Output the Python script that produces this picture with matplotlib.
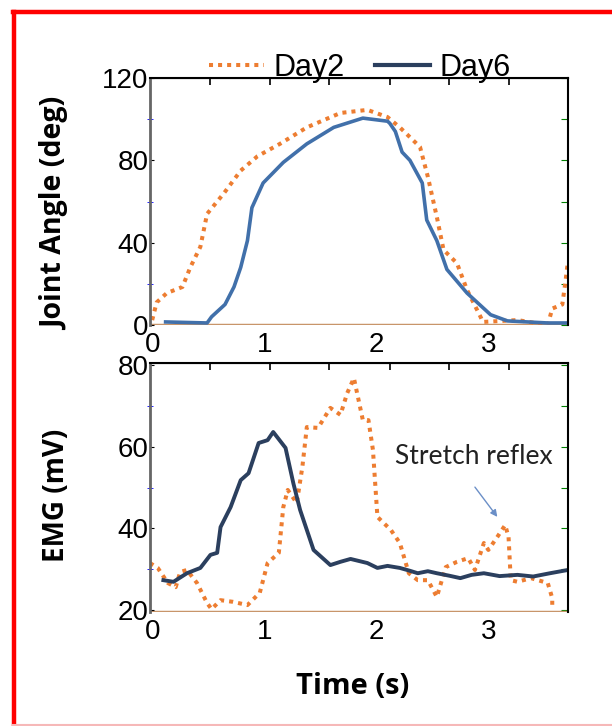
import matplotlib
matplotlib.use("Agg")
import matplotlib.pyplot as plt
from matplotlib.lines import Line2D

# 관절 각도 (상단 패널)
angle_day2_t = [0.0, 0.04, 0.13, 0.27, 0.34, 0.43, 0.49, 0.64, 0.79, 0.94, 1.14, 1.38, 1.68, 1.92,
                2.1, 2.21, 2.39, 2.46, 2.54, 2.6, 2.72, 2.81, 2.93, 2.95, 3.26, 3.53, 3.57, 3.66, 3.69, 3.71]
angle_day2 = [2.4, 11, 15.5, 18.5, 28, 38, 54, 64, 75, 82, 88, 96, 103, 104.5,
              101, 96, 86.5, 72, 52.5, 36.5, 30, 17, 4, 1.5, 2.4, 0, 8, 10, 22, 31]
angle_day6_t = [0.12, 0.49, 0.53, 0.65, 0.73, 0.79, 0.85, 0.89, 0.99, 1.17, 1.38, 1.62, 1.88, 2.1,
                2.12, 2.17, 2.23, 2.3, 2.41, 2.45, 2.54, 2.63, 2.81, 3.02, 3.17, 3.53, 3.71]
angle_day6 = [1.5, 1, 4, 10, 18.5, 28, 41, 57, 69, 79, 88, 96, 100.5, 99,
              98, 94, 84, 80, 69, 51, 41, 27, 15.5, 5, 2, 1, 1]

# EMG (하단 패널)
emg_day2_t = [-0.02, 0.05, 0.14, 0.21, 0.25, 0.31, 0.4, 0.49, 0.53, 0.61, 0.72, 0.85, 0.96, 1.03,
              1.13, 1.17, 1.21, 1.29, 1.34, 1.38, 1.48, 1.59, 1.68, 1.74, 1.8, 1.88, 1.93, 1.97,
              2.01, 2.13, 2.21, 2.29, 2.37, 2.46, 2.54, 2.62, 2.72, 2.82, 2.88, 2.96, 3.0, 3.08,
              3.15, 3.18, 3.2, 3.26, 3.38, 3.53, 3.57, 3.57]
emg_day2 = [31.5, 30.3, 26.6, 25.6, 29.3, 29.8, 26.6, 21.7, 20.2, 22.4, 22, 21.2, 24.2, 31.5,
            34, 45.2, 49.4, 46.2, 55, 64.8, 64.6, 69.5, 67.8, 73.1, 76.8, 66.5, 66.5, 59.2,
            42.8, 39.6, 36.4, 29, 27.3, 27.3, 23.2, 30.5, 31.8, 32.7, 29.8, 36.4, 34.7, 37.9,
            40.8, 37.9, 27.3, 26.9, 27.8, 26.6, 22.9, 20.7]
emg_day6_t = [0.1, 0.19, 0.31, 0.43, 0.52, 0.58, 0.61, 0.7, 0.79, 0.86, 0.95, 1.03, 1.08, 1.19,
              1.26, 1.32, 1.44, 1.59, 1.68, 1.77, 1.92, 2.01, 2.1, 2.21, 2.3, 2.37, 2.46, 2.54,
              2.65, 2.75, 2.85, 2.96, 3.1, 3.26, 3.4, 3.55, 3.71]
emg_day6 = [27.3, 26.9, 29, 30.3, 33.5, 34, 40.3, 45.2, 51.8, 53.5, 60.9, 61.6, 63.6, 59.7,
            51, 44.5, 34.7, 31, 31.8, 32.5, 31.5, 30.3, 30.8, 30.3, 29.6, 29, 29.5, 29,
            28.4, 27.8, 28.6, 29, 28.3, 28.6, 28.2, 29, 29.8]

x_labels = ["0", "1", "2", "3"]
top_minor = [0.52, 1.05, 1.58, 2.12, 2.65, 3.18]

ORANGE = "#ed7d31"
BLUE = "#4170aa"
NAVY = "#2b3f5e"
TAN = "#c8956a"

fig = plt.figure(figsize=(6.12, 7.26), dpi=100)

# 빨간 테두리
fig.add_artist(Line2D([0.023, 0.023], [0.0, 0.984], transform=fig.transFigure, color="red", lw=3.2))
fig.add_artist(Line2D([0.021, 1.0], [0.984, 0.984], transform=fig.transFigure, color="red", lw=3.2))
fig.add_artist(Line2D([0.021, 1.0], [0.002, 0.002], transform=fig.transFigure, color="#f6b8b8", lw=1.5))

ax1 = fig.add_axes([0.245, 0.5523, 0.683, 0.3403])
ax2 = fig.add_axes([0.245, 0.157, 0.683, 0.343])

dots = (0, (1, 1.25))

# 상단: 관절 각도
ax1.plot(angle_day2_t, angle_day2, color=ORANGE, lw=2.9, linestyle=dots, label="Day2")
ax1.plot(angle_day6_t, angle_day6, color=BLUE, lw=2.6)
ax1.axhline(0, color=TAN, lw=2.5, zorder=1)
ax1.set_xlim(-0.02, 3.71)
ax1.set_ylim(0, 120)
ax1.set_yticks([0, 40, 80, 120])

# 하단: EMG
ax2.plot(emg_day2_t, emg_day2, color=ORANGE, lw=2.9, linestyle=dots)
ax2.plot(emg_day6_t, emg_day6, color=NAVY, lw=2.8)
ax2.axhline(19.5, color=TAN, lw=2.5, zorder=1)
ax2.set_xlim(-0.02, 3.71)
ax2.set_ylim(19.5, 80.5)
ax2.set_yticks([20, 40, 60, 80])

ax2.text(2.87, 57.5, "Stretch reflex", ha="center", va="center", fontsize=19,
         family="Lato", color="#222222")
ax2.annotate("", xy=(3.08, 42.8), xytext=(2.88, 50.1),
             arrowprops=dict(arrowstyle="-|>", color="#6b8fc7", lw=1.0,
                             mutation_scale=10, shrinkA=0, shrinkB=0))

minor_left = {ax1: [20, 60, 100], ax2: [30, 50, 70]}
for ax in (ax1, ax2):
    ax.set_xticks([0, 1, 2, 3])
    ax.set_xticklabels(x_labels)
    ax.set_yticks(minor_left[ax], minor=True)
    ax.tick_params(axis="x", length=0, pad=5, labelsize=20)
    ax.tick_params(axis="y", which="major", direction="in", length=3, pad=1, labelsize=20)
    ax.tick_params(axis="y", which="minor", direction="inout", length=4, color="blue")
    for lab in ax.get_xticklabels() + ax.get_yticklabels():
        lab.set_family("Liberation Sans")
    ax.spines["left"].set_color("#666666")
    ax.spines["left"].set_linewidth(2)
    ax.spines["top"].set_linewidth(1.5)
    ax.spines["right"].set_linewidth(1.5)
    ax.spines["bottom"].set_visible(False)
    # 상단 눈금
    sec = ax.secondary_xaxis("top")
    sec.set_xticks(top_minor)
    sec.tick_params(direction="in", length=5, width=1.2, labeltop=False)
    # 오른쪽 녹색 눈금
    secy = ax.secondary_yaxis("right")
    secy.set_yticks(sorted(minor_left[ax] + list(ax.get_yticks())))
    secy.tick_params(direction="in", length=5, color="green", labelright=False)
    secy.spines["right"].set_visible(False)

ax1.set_ylabel("Joint Angle (deg)", family="Open Sans", fontweight="bold", fontsize=20.5)
ax1.yaxis.set_label_coords(-0.19, 0.45)
ax2.set_ylabel("EMG (mV)", family="Open Sans", fontweight="bold", fontsize=20)
ax2.yaxis.set_label_coords(-0.19, 0.47)
ax2.set_xlabel("Time (s)", family="Open Sans", fontweight="bold", fontsize=21)
ax2.xaxis.set_label_coords(0.485, -0.24)

leg = fig.legend(handles=[ax1.lines[0], ax1.lines[1]], labels=["Day2", "Day6"],
                 loc="center", bbox_to_anchor=(0.588, 0.907), ncol=2, frameon=False,
                 handlelength=1.8, handletextpad=0.3, columnspacing=1.0,
                 prop={"family": "Liberation Sans", "size": 22})
leg.legend_handles[1].set_color(NAVY)
leg.legend_handles[1].set_linewidth(3)

fig.savefig("out.png", dpi=100)
